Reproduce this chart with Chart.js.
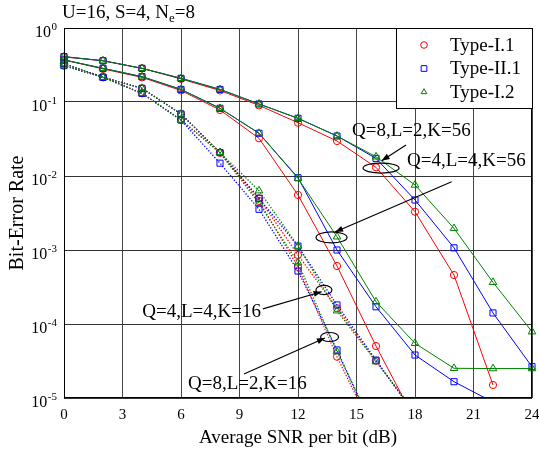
<!DOCTYPE html>
<html>
<head>
<meta charset="utf-8">
<script src="https://cdn.jsdelivr.net/npm/chart.js@4.4.1/dist/chart.umd.min.js"></script>
<style>
  html, body { margin: 0; padding: 0; background: #fff; }
  #wrap { width: 539px; height: 455px; }
</style>
</head>
<body>
<div id="wrap"><canvas id="berChart" width="539" height="455"></canvas></div>
<script>
document.addEventListener( "DOMContentLoaded", () => {

    // Axis values
    // ----------------------------------------------
    const snrDb      = [0, 2, 4, 6, 8, 10, 12, 14, 16, 18, 20, 22, 24];
    const xTickVals  = [0, 3, 6, 9, 12, 15, 18, 21, 24];
    const yExponents = [0, -1, -2, -3, -4, -5];

    const typeNames   = ['Type-I.1', 'Type-II.1', 'Type-I.2'];
    const typeColors  = ['#ff0000', '#0000ff', '#008000'];
    const typeMarkers = ['circle', 'rect', 'triangle'];

    // BER curves, one array per scheme type
    // ----------------------------------------------
    // Q=8, L=2, K=56
    const q8l2k56_t1 = [0.406, 0.361, 0.285, 0.205, 0.143, 0.090, 0.0525, 0.0297, 0.0131, 0.00329, 0.000459, 0.000015, null];
    const q8l2k56_t2 = [0.410, 0.361, 0.285, 0.209, 0.148, 0.094, 0.0602, 0.0347, 0.0173, 0.00474, 0.00107, 0.000141, 0.0000265];
    const q8l2k56_t3 = [0.410, 0.361, 0.285, 0.209, 0.148, 0.094, 0.0602, 0.0347, 0.0182, 0.00756, 0.00196, 0.000366, 0.0000787];

    // Q=4, L=4, K=56
    const q4l4k56_t1 = [0.370, 0.280, 0.215, 0.143, 0.078, 0.0323, 0.00554, 0.000608, 0.0000504, 0.000005, null, null, null];
    const q4l4k56_t2 = [0.370, 0.285, 0.220, 0.148, 0.0822, 0.0378, 0.00948, 0.00100, 0.000171, 0.0000381, 0.0000166, 0.0000088, null];
    const q4l4k56_t3 = [0.370, 0.285, 0.220, 0.148, 0.0822, 0.0378, 0.0093, 0.00151, 0.000200, 0.0000548, 0.0000252, 0.000025, 0.000025];

    // Q=4, L=4, K=16
    const q4l4k16_t1 = [0.331, 0.216, 0.153, 0.0689, 0.0207, 0.0050, 0.000856, 0.000163, 0.0000319, 0.000006, null, null, null];
    const q4l4k16_t2 = [0.331, 0.216, 0.153, 0.0689, 0.0207, 0.0050, 0.00113, 0.000181, 0.0000325, 0.000006, null, null, null];
    const q4l4k16_t3 = [0.331, 0.216, 0.153, 0.0689, 0.0207, 0.00633, 0.00113, 0.000151, 0.000031, 0.0000065, null, null, null];

    // Q=8, L=2, K=16
    const q8l2k16_t1 = [0.310, 0.216, 0.131, 0.0571, 0.0207, 0.0046, 0.00059, 0.0000361, 0.000003, null, null, null, null];
    const q8l2k16_t2 = [0.310, 0.216, 0.131, 0.0571, 0.0149, 0.00355, 0.00052, 0.0000446, 0.000003, null, null, null, null];
    const q8l2k16_t3 = [0.310, 0.216, 0.131, 0.0571, 0.0207, 0.00428, 0.000673, 0.0000422, 0.0000035, null, null, null, null];

    const curveSets = [
        { series: [q8l2k56_t1, q8l2k56_t2, q8l2k56_t3], dotted: false },
        { series: [q4l4k56_t1, q4l4k56_t2, q4l4k56_t3], dotted: false },
        { series: [q4l4k16_t1, q4l4k16_t2, q4l4k16_t3], dotted: true },
        { series: [q8l2k16_t1, q8l2k16_t2, q8l2k16_t3], dotted: true }
    ];

    // Callouts, placed in (dB, BER) units; ring radii in px
    // ----------------------------------------------
    const callouts = [
        { text: 'Q=8,L=2,K=56', at: [14.77, 0.0406], align: 'left',
          from: [17.54, 0.0262], to: [16.29, 0.0161], ring: [16.26, 0.0128, 18, 5] },
        { text: 'Q=4,L=4,K=56', at: [17.59, 0.0160], align: 'left',
          from: [19.88, 0.00838], to: [13.90, 0.00175], ring: [13.72, 0.00148, 15.5, 5.5] },
        { text: 'Q=4,L=4,K=16', at: [10.10, 0.000145], align: 'right',
          from: [10.20, 0.000160], to: [13.21, 0.000273], ring: [13.33, 0.000288, 8, 4.7] },
        { text: 'Q=8,L=2,K=16', at: [6.36, 0.0000155], align: 'left',
          from: [9.23, 0.0000211], to: [13.38, 0.0000647], ring: [13.62, 0.0000667, 9, 4.5] }
    ];

    const serif = '"Liberation Serif", "DejaVu Serif", serif';

    // Datasets
    // ----------------------------------------------
    const datasets = [];
    curveSets.forEach( set => {
        set.series.forEach( ( values, t ) => {
            datasets.push({
                label: typeNames[t],
                data: values.map( ( v, i ) => ({ x: snrDb[i], y: v }) ),
                borderColor: typeColors[t],
                backgroundColor: 'rgba(0,0,0,0)',
                pointBorderColor: typeColors[t],
                pointBackgroundColor: 'rgba(0,0,0,0)',
                pointStyle: typeMarkers[t],
                pointRadius: t === 1 ? 4.3 : ( t === 2 ? 4.4 : 3.6 ),
                pointBorderWidth: 1,
                borderWidth: set.dotted ? 1.3 : 1,
                borderDash: set.dotted ? [1.3, 1.7] : [],
                order: 3 - t,
                tension: 0,
                // let edge markers hang over the side frame, cut everything under 1e-5
                clip: { left: 6, right: 6, top: 6, bottom: 0 }
            });
        });
    });

    // Text, legend and callouts drawn on top of the plot
    // ----------------------------------------------
    const decorPlugin = {
        id: 'decor',
        afterDraw( chart ) {
            const ctx  = chart.ctx;
            const area = chart.chartArea;
            const xs   = chart.scales.x;
            const ys   = chart.scales.y;
            const px   = p => [ xs.getPixelForValue( p[0] ), ys.getPixelForValue( p[1] ) ];

            ctx.save();

            // plot frame
            ctx.strokeStyle = '#000';
            ctx.lineWidth = 1;
            ctx.strokeRect( area.left + 0.5, area.top + 0.5, area.right - area.left - 1, area.bottom - area.top - 1 );

            ctx.fillStyle = '#000';
            ctx.textBaseline = 'alphabetic';

            // header text with subscript
            ctx.font = `19px ${ serif }`;
            ctx.textAlign = 'left';
            let tx = 62;
            ctx.fillText( 'U=16, S=4, N', tx, 18 );
            tx += ctx.measureText( 'U=16, S=4, N' ).width;
            ctx.font = `13px ${ serif }`;
            ctx.fillText( 'e', tx, 22 );
            tx += ctx.measureText( 'e' ).width;
            ctx.font = `19px ${ serif }`;
            ctx.fillText( '=8', tx, 18 );

            // y tick labels 10^n
            yExponents.forEach( e => {
                const y = ys.getPixelForValue( Math.pow( 10, e ) );
                const sup = String( e );
                ctx.font = `11px ${ serif }`;
                const ws = ctx.measureText( sup ).width;
                ctx.textAlign = 'left';
                const right = 57;
                ctx.fillText( sup, right - ws, y + 2 );
                ctx.font = `16px ${ serif }`;
                ctx.textAlign = 'right';
                ctx.fillText( '10', right - ws - 0.5, y + 9 );
            });

            // x tick labels
            ctx.font = `15px ${ serif }`;
            ctx.textAlign = 'center';
            xTickVals.forEach( v => {
                ctx.fillText( String( v ), xs.getPixelForValue( v ), area.bottom + 21 );
            });

            // axis titles
            ctx.font = `19px ${ serif }`;
            ctx.fillText( 'Average SNR per bit (dB)', ( area.left + area.right ) / 2, 443 );
            ctx.save();
            ctx.translate( 23, ( area.top + area.bottom ) / 2 );
            ctx.rotate( -Math.PI / 2 );
            ctx.font = `20px ${ serif }`;
            ctx.fillText( 'Bit-Error Rate', 0, 0 );
            ctx.restore();

            // callouts
            callouts.forEach( c => {
                const [ ax, ay ] = px( c.at );
                ctx.font = `19px ${ serif }`;
                ctx.textAlign = c.align;
                ctx.textBaseline = 'middle';
                ctx.fillStyle = '#000';
                ctx.fillText( c.text, ax, ay );

                const [ rx, ry ] = px( c.ring );
                ctx.beginPath();
                ctx.ellipse( rx, ry, c.ring[2], c.ring[3], 0, 0, Math.PI * 2 );
                ctx.strokeStyle = '#000';
                ctx.lineWidth = 1.2;
                ctx.stroke();

                const [ fx, fy ] = px( c.from );
                const [ hx, hy ] = px( c.to );
                ctx.beginPath();
                ctx.moveTo( fx, fy );
                ctx.lineTo( hx, hy );
                ctx.lineWidth = 1.2;
                ctx.stroke();

                const ang = Math.atan2( hy - fy, hx - fx );
                const len = 8, half = 3;
                ctx.beginPath();
                ctx.moveTo( hx, hy );
                ctx.lineTo( hx - len * Math.cos( ang ) + half * Math.sin( ang ), hy - len * Math.sin( ang ) - half * Math.cos( ang ) );
                ctx.lineTo( hx - len * Math.cos( ang ) - half * Math.sin( ang ), hy - len * Math.sin( ang ) + half * Math.cos( ang ) );
                ctx.closePath();
                ctx.fill();
            });

            // legend box
            const lx = 396, ly = 28, lw = 136, lh = 80;
            ctx.fillStyle = '#fff';
            ctx.fillRect( lx, ly, lw, lh );
            ctx.strokeStyle = '#000';
            ctx.lineWidth = 1;
            ctx.strokeRect( lx + 0.5, ly + 0.5, lw, lh );
            typeNames.forEach( ( name, t ) => {
                const y = ly + 17 + t * 23.5;
                ctx.strokeStyle = typeColors[t];
                ctx.fillStyle = 'rgba(0,0,0,0)';
                ctx.lineWidth = 1;
                Chart.helpers.drawPoint( ctx, {
                    pointStyle: typeMarkers[t],
                    radius: t === 1 ? 4 : 3.3,
                    borderWidth: 1,
                    rotation: 0
                }, 424, y );
                ctx.fillStyle = '#000';
                ctx.font = `19px ${ serif }`;
                ctx.textAlign = 'left';
                ctx.textBaseline = 'middle';
                ctx.fillText( name, 450, y + 1 );
            });

            ctx.restore();
        }
    };

    // BER Chart
    // ----------------------------------------------
    new Chart(
        document.getElementById('berChart'), {
            type: 'line',
            data: { datasets },
            options: {
                responsive: false,
                animation: false,
                events: [],
                layout: {
                    padding: { left: 64, right: 7, top: 28, bottom: 57 }
                },
                plugins: {
                    legend: { display: false },
                    tooltip: { enabled: false }
                },
                spanGaps: false,
                scales: {
                    x: {
                        type: 'linear',
                        min: 0,
                        max: 24,
                        ticks: { display: false, stepSize: 3 },
                        afterBuildTicks: scale => {
                            scale.ticks = xTickVals.map( v => ({ value: v }) );
                        },
                        grid: { color: '#444', lineWidth: 1, drawTicks: false },
                        border: { display: false }
                    },
                    y: {
                        type: 'logarithmic',
                        min: 1e-5,
                        max: 1,
                        ticks: { display: false },
                        afterBuildTicks: scale => {
                            scale.ticks = yExponents.map( e => ({ value: Math.pow( 10, e ), major: true }) );
                        },
                        grid: { color: '#333', lineWidth: 1, drawTicks: false },
                        border: { display: false }
                    }
                }
            },
            plugins: [ decorPlugin ]
        }
    );

});
</script>
</body>
</html>
